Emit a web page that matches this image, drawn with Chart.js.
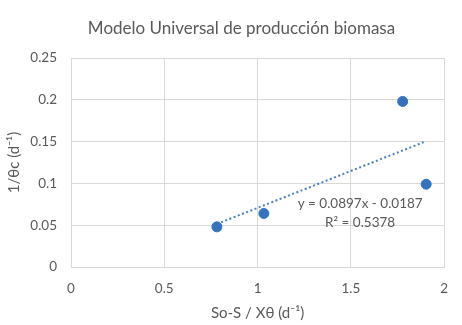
<!DOCTYPE html>
<html>
<head>
<meta charset="utf-8">
<script src="https://cdn.jsdelivr.net/npm/chart.js@4"></script>
<style>
  html, body { margin: 0; padding: 0; background: #fff; }
  #wrap { width: 462px; height: 325px; }
</style>
</head>
<body>
<div id="wrap"><canvas id="myChart" width="462" height="325"></canvas></div>
<script>
// data
var xValues = [0.782, 1.034, 1.778, 1.904];
var yValues = [0.048, 0.064, 0.198, 0.099];
// trend line end points (as drawn)
var trendX = [0.782, 1.894];
var trendY = [0.0515, 0.1496];
var trendText = ['y = 0.0897x - 0.0187', 'R\u00b2 = 0.5378'];
var trendTextAt = [1.55, 0.0762, 0.0536]; // x value, y value of each line
var xTicks = [0, 0.5, 1, 1.5, 2];
var yTicks = [0, 0.05, 0.1, 0.15, 0.2, 0.25];

var grey = '#595959';
var blue = '#3572be';
var FONT = 'Lato, "Liberation Sans", sans-serif';

// writes the equation and R² next to the trend line
var trendLabel = {
    id: 'trendLabel',
    afterDatasetsDraw: function (chart) {
        var c = chart.ctx;
        var px = chart.scales.x.getPixelForValue(trendTextAt[0]);
        c.save();
        c.font = '13.5px ' + FONT;
        c.fillStyle = grey;
        c.textAlign = 'center';
        c.textBaseline = 'middle';
        c.fillText(trendText[0], px, chart.scales.y.getPixelForValue(trendTextAt[1]));
        c.fillText(trendText[1], px, chart.scales.y.getPixelForValue(trendTextAt[2]));
        c.restore();
    }
};

// the title sits a bit right of the canvas centre, like in Excel
var titleShift = {
    id: 'titleShift',
    afterLayout: function (chart) {
        if (chart.titleBlock) chart.titleBlock.left = 36;
    }
};

function plain(v) { return String(v); }

var ctx = document.getElementById('myChart').getContext('2d');

var myChart = new Chart(ctx, {
    type: 'scatter',
    data: {
        datasets: [{
            label: 'datos',
            data: xValues.map(function (x, i) { return { x: x, y: yValues[i] }; }),
            backgroundColor: blue,
            borderColor: blue,
            pointRadius: 5,
            pointHoverRadius: 5
        }, {
            label: 'tendencia',
            type: 'line',
            data: trendX.map(function (x, i) { return { x: x, y: trendY[i] }; }),
            borderColor: '#4a7fc4',
            borderWidth: 2,
            borderDash: [2, 2.5],
            pointRadius: 0,
            fill: false
        }]
    },
    options: {
        responsive: false,
        animation: false,
        plugins: {
            legend: { display: false },
            tooltip: { enabled: false },
            title: {
                display: true,
                text: 'Modelo Universal de producción biomasa',
                color: grey,
                font: { family: FONT, size: 17, weight: 'normal' },
                padding: { top: 18.5, bottom: 19.1 }
            }
        },
        layout: {
            padding: { left: 0, right: 15, top: 0, bottom: 0 }
        },
        scales: {
            x: {
                type: 'linear',
                min: 0,
                max: 2,
                afterBuildTicks: function (s) { s.ticks = xTicks.map(function (v) { return { value: v }; }); },
                afterFit: function (s) { s.height = 58; },
                grid: { color: '#d9d9d9', drawTicks: false },
                border: { color: '#d9d9d9' },
                ticks: { color: grey, padding: 14, font: { family: FONT, size: 13.5 }, callback: plain },
                title: {
                    display: true,
                    text: 'So-S / X\u03b8 (d\u207b\u00b9)',
                    color: grey,
                    font: { family: FONT, size: 15 },
                    padding: { top: 0, bottom: 3 }
                }
            },
            y: {
                min: 0,
                max: 0.25,
                afterBuildTicks: function (s) { s.ticks = yTicks.map(function (v) { return { value: v }; }); },
                afterFit: function (s) { s.width = 71; },
                grid: { color: '#d9d9d9', drawTicks: false },
                border: { color: '#d9d9d9' },
                ticks: { color: grey, padding: 14, font: { family: FONT, size: 13.5 }, callback: plain },
                title: {
                    display: true,
                    text: '1/\u03b8c (d\u207b\u00b9)',
                    color: grey,
                    font: { family: FONT, size: 15 },
                    padding: { top: 5, bottom: 0 }
                }
            }
        }
    },
    plugins: [trendLabel, titleShift]
});
</script>
</body>
</html>
